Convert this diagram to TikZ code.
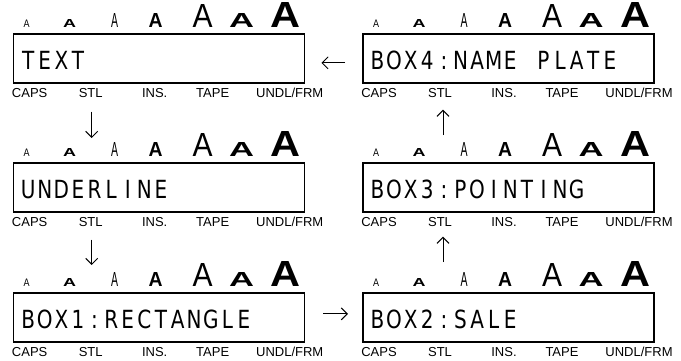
\documentclass[tikz,border=0pt]{standalone}
\usepackage{fontspec}
\usetikzlibrary{arrows.meta}
\setsansfont{Liberation Sans}
\newfontfamily\lcdfont{DejaVu Sans}
\newfontfamily\labfont{Liberation Sans}
\def\lcdtext#1{{\lcdfont\fontsize{25pt}{26pt}\selectfont\lcdloop#1\relax}}
\def\lcdloop#1{\ifx\relax#1\else\makebox[16.6pt]{\scalebox{0.8}[1]{#1}}\expandafter\lcdloop\fi}
\def\undl{UNDL/FRM}
\newcommand\panel[4]{%
  \node[panel] (#1) at (#2,#3) {};
  \node[lcd] (#1-txt) at ([xshift=7pt,yshift=-2pt]#1.west) {\lcdtext{#4}};
  \foreach \i/\dx/\w/\h/\f in {1/14/6/7.5/\mdseries, 2/57/13/8/\bfseries, 3/102/7/14/\mdseries,
      4/143/14/14/\bfseries, 5/190/20/23/\mdseries, 6/229/25/14/\bfseries, 7/273/30/25/\bfseries}
    \node[glyph] (#1-a\i) at ([xshift=\dx pt,yshift=5pt]#1.north west)
      {\resizebox{\w pt}{\h pt}{\sffamily\f A}};
  \foreach \dx/\s [count=\k] in {17/CAPS, 78/STL, 142/INS., 200/TAPE, 277/\undl}
    \node[lab] (#1-l\k) at ([xshift=\dx pt,yshift=-13.5pt]#1.south west) {\s};
}
\begin{document}
\begin{tikzpicture}[x=1pt,y=-1pt,
  panel/.style={draw, line width=1.7pt, minimum width=291pt, minimum height=49pt,
    inner sep=0pt, anchor=north west},
  lcd/.style={anchor=west, inner sep=0pt},
  lab/.style={anchor=base, inner sep=0pt, font=\labfont\fontsize{13pt}{13pt}\selectfont},
  glyph/.style={anchor=south, inner sep=0pt},
  arr/.style={line width=1pt, -{Straight Barb[length=6pt,width=12pt]}}]
\path[use as bounding box] (0,0) rectangle (681,360);
\panel{t}{12.7}{33}{TEXT}
\panel{u}{12.7}{162}{UNDERLINE}
\panel{b1}{12.7}{292}{BOX1:RECTANGLE}
\panel{b2}{362}{292}{BOX2:SALE}
\panel{b3}{362}{162}{BOX3:POINTING}
\panel{b4}{362}{33}{BOX4:NAME~PLATE}
\draw[arr] ([xshift=-17pt,yshift=-4.5pt]b4.west) -- ([xshift=16pt,yshift=-4.5pt]t.east);
\draw[arr] ([xshift=18pt,yshift=3.5pt]b1.east) -- ([xshift=-14pt,yshift=3.5pt]b2.west);
\draw[arr] ([xshift=79pt,yshift=-28pt]t.south west) -- ([xshift=79pt,yshift=24pt]u.north west);
\draw[arr] ([xshift=79pt,yshift=-27pt]u.south west) -- ([xshift=79pt,yshift=27pt]b1.north west);
\draw[arr] ([xshift=81pt,yshift=30pt]b2.north west) -- ([xshift=81pt,yshift=-24pt]b3.south west);
\draw[arr] ([xshift=81pt,yshift=27pt]b3.north west) -- ([xshift=81pt,yshift=-26pt]b4.south west);
\end{tikzpicture}
\end{document}
